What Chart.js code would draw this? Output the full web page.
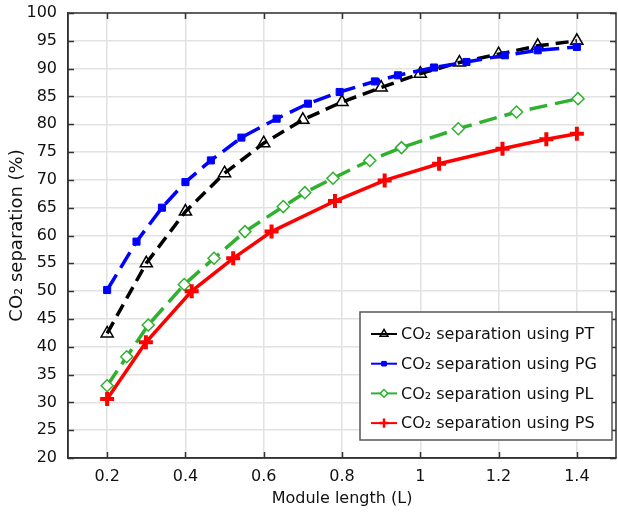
<!DOCTYPE html>
<html><head><meta charset="utf-8">
<script src="https://cdn.jsdelivr.net/npm/chart.js@4"></script>
<style>html,body{margin:0;padding:0;background:#fff}#wrap{width:618px;height:513px}</style>
</head><body><div id="wrap"><canvas id="c" width="618" height="513"></canvas></div>
<script>
// ---- data ----
const xTickValues = [0.2, 0.4, 0.6, 0.8, 1.0, 1.2, 1.4];
const xTickLabels = ['0.2', '0.4', '0.6', '0.8', '1', '1.2', '1.4'];
const yTickValues = [20, 25, 30, 35, 40, 45, 50, 55, 60, 65, 70, 75, 80, 85, 90, 95, 100];

const seriesNames = ['CO₂ separation using PT', 'CO₂ separation using PG', 'CO₂ separation using PL', 'CO₂ separation using PS'];

const ptX = [0.2, 0.3, 0.4, 0.5, 0.6, 0.7, 0.8, 0.9, 1.0, 1.1, 1.2, 1.3, 1.4];
const ptY = [42.4, 55.0, 64.3, 71.2, 76.6, 80.8, 84.0, 86.6, 89.1, 91.1, 92.6, 94.1, 95.0];

const pgX = [0.2, 0.275, 0.34, 0.4, 0.465, 0.543, 0.633, 0.713, 0.794, 0.884, 0.943, 1.035, 1.118, 1.216, 1.3, 1.4];
const pgY = [50.2, 58.9, 65.0, 69.6, 73.5, 77.6, 81.0, 83.7, 85.8, 87.7, 88.8, 90.2, 91.2, 92.4, 93.3, 93.9];

const plX = [0.2, 0.25, 0.305, 0.397, 0.473, 0.552, 0.65, 0.705, 0.777, 0.871, 0.952, 1.097, 1.246, 1.403];
const plY = [33.0, 38.2, 43.9, 51.2, 55.9, 60.7, 65.2, 67.7, 70.3, 73.5, 75.8, 79.2, 82.2, 84.6];

const psX = [0.2, 0.299, 0.416, 0.522, 0.62, 0.782, 0.909, 1.048, 1.21, 1.322, 1.4];
const psY = [30.6, 40.8, 50.0, 55.9, 60.7, 66.2, 69.9, 72.9, 75.6, 77.3, 78.3];

// ---- build ----
const pts = (xs, ys) => xs.map((x, i) => ({x: x, y: ys[i]}));
const FONT = "'DejaVu Sans', 'Liberation Sans', sans-serif";

const datasets = [
  {label: seriesNames[0], data: pts(ptX, ptY), borderColor: '#000000', borderWidth: 3.5, borderDash: [13, 7],
   pointStyle: 'triangle', pointRadius: 7, pointBorderWidth: 1.5, pointBorderColor: '#000000', pointBackgroundColor: 'rgba(255,255,255,0)', order: 4},
  {label: seriesNames[1], data: pts(pgX, pgY), borderColor: '#0000ff', borderWidth: 3.5, borderDash: [18, 8],
   pointStyle: 'rect', pointRadius: 5, pointBorderWidth: 1, pointBorderColor: '#0000ff', pointBackgroundColor: '#0000ff', order: 3},
  {label: seriesNames[2], data: pts(plX, plY), borderColor: '#2fb12f', borderWidth: 3.5, borderDash: [18, 8],
   pointStyle: 'rectRot', pointRadius: 6, pointBorderWidth: 1.5, pointBorderColor: '#2fb12f', pointBackgroundColor: '#ffffff', order: 2},
  {label: seriesNames[3], data: pts(psX, psY), borderColor: '#ff0000', borderWidth: 3.5,
   pointStyle: 'cross', pointRadius: 7, pointBorderWidth: 4, pointBorderColor: '#ff0000', pointBackgroundColor: '#ff0000', order: 1}
];
datasets.forEach(d => { d.tension = 0; d.fill = false; d.showLine = true; d.clip = 8; });

const frameTicks = {
  id: 'frameTicks',
  afterDatasetsDraw(chart) {
    const {ctx, chartArea: a, scales: {x, y}} = chart;
    ctx.save();
    ctx.strokeStyle = '#333';
    ctx.lineWidth = 1.5;
    ctx.beginPath();
    const L = 6;
    xTickValues.forEach(v => {
      const px = Math.round(x.getPixelForValue(v)) + 0.5;
      ctx.moveTo(px, a.bottom); ctx.lineTo(px, a.bottom - L);
      ctx.moveTo(px, a.top); ctx.lineTo(px, a.top + L);
    });
    yTickValues.forEach(v => {
      const py = Math.round(y.getPixelForValue(v)) + 0.5;
      ctx.moveTo(a.left, py); ctx.lineTo(a.left + L, py);
      ctx.moveTo(a.right, py); ctx.lineTo(a.right - L, py);
    });
    ctx.stroke();
    ctx.beginPath();
    ctx.rect(a.left, a.top, a.right - a.left, a.bottom - a.top);
    ctx.stroke();
    ctx.restore();
  }
};

const boxLegend = {
  id: 'boxLegend',
  afterDraw(chart) {
    const {ctx, chartArea: a} = chart;
    const w = 252, h = 128;
    const bx = a.right - 4 - w, by = a.bottom - 18 - h;
    ctx.save();
    ctx.fillStyle = '#ffffff';
    ctx.fillRect(bx, by, w, h);
    ctx.strokeStyle = '#555';
    ctx.lineWidth = 1.5;
    ctx.strokeRect(bx, by, w, h);
    ctx.font = '16px ' + FONT;
    ctx.textBaseline = 'middle';
    chart.data.datasets.forEach((d, i) => {
      const cy = by + 22 + i * 29.7;
      const lx0 = bx + 11, lx1 = bx + 37, mx = (lx0 + lx1) / 2;
      ctx.strokeStyle = d.borderColor;
      ctx.lineWidth = 2;
      ctx.setLineDash([]);
      ctx.beginPath(); ctx.moveTo(lx0, cy); ctx.lineTo(lx1, cy); ctx.stroke();
      ctx.fillStyle = d.pointBackgroundColor;
      ctx.strokeStyle = d.pointBorderColor;
      ctx.lineWidth = Math.min(d.pointBorderWidth, 2.5);
      Chart.helpers.drawPoint(ctx, {pointStyle: d.pointStyle, radius: d.pointRadius * 0.65, rotation: 0, borderWidth: ctx.lineWidth}, mx, cy);
      ctx.fillStyle = '#111';
      ctx.fillText(d.label, bx + 41, cy + 1);
    });
    ctx.restore();
  }
};

new Chart(document.getElementById('c'), {
  type: 'line',
  data: {datasets: datasets},
  plugins: [frameTicks, boxLegend],
  options: {
    responsive: false,
    devicePixelRatio: 1,
    animation: false,
    layout: {autoPadding: false, padding: {top: 13, right: 2, left: 0, bottom: 0}},
    plugins: {legend: {display: false}, tooltip: {enabled: false}},
    scales: {
      x: {
        type: 'linear', min: 0.1, max: 1.5,
        afterBuildTicks: s => { s.ticks = xTickValues.map(v => ({value: v})); },
        afterFit: s => { s.height = 55; s.paddingLeft = 0; s.paddingRight = 0; },
        ticks: {callback: (v, i) => xTickLabels[i], color: '#111', font: {family: FONT, size: 16}, padding: 9, maxRotation: 0, autoSkip: false},
        grid: {color: '#e2e2e2', lineWidth: 1.5, drawTicks: false},
        border: {display: true, color: '#333', width: 1.5},
        title: {display: true, text: 'Module length (L)', color: '#111', font: {family: FONT, size: 16}, padding: {top: 0, bottom: 5}}
      },
      y: {
        type: 'linear', min: 20, max: 100,
        afterBuildTicks: s => { s.ticks = yTickValues.map(v => ({value: v})); },
        afterFit: s => { s.width = 68; s.paddingTop = 0; s.paddingBottom = 0; },
        ticks: {color: '#111', font: {family: FONT, size: 16}, padding: 11, autoSkip: false},
        grid: {color: '#e2e2e2', lineWidth: 1.5, drawTicks: false},
        border: {display: true, color: '#333', width: 1.5},
        title: {display: true, text: 'CO₂ separation (%)', color: '#111', font: {family: FONT, size: 18}, padding: {top: 7, bottom: 0}}
      }
    }
  }
});
</script>
</body></html>
